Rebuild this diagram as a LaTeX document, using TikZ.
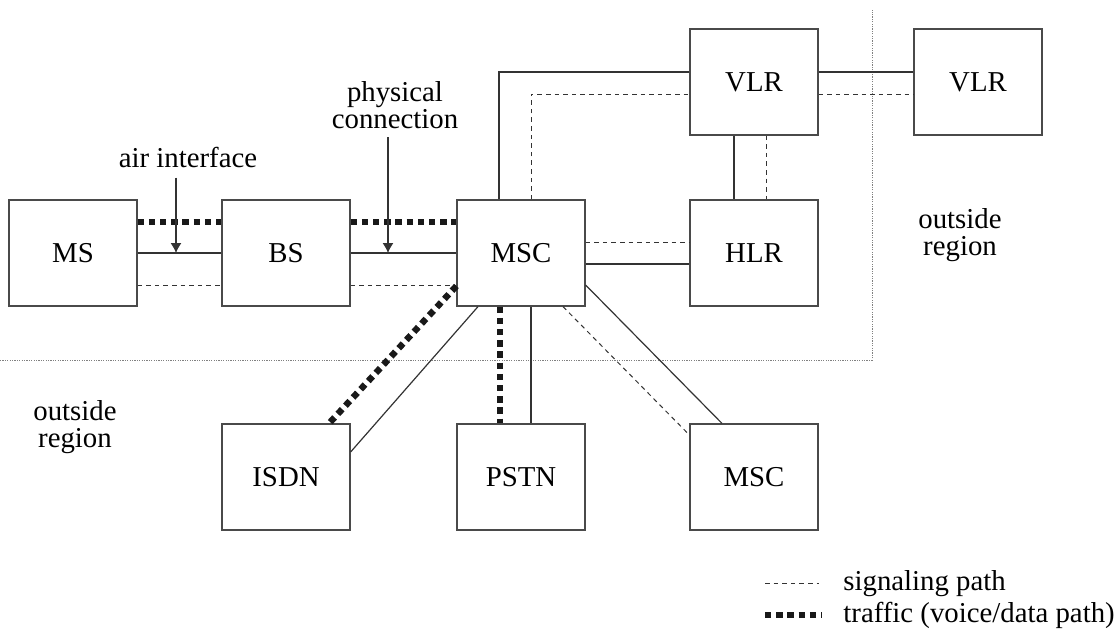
\documentclass[tikz,border=0pt]{standalone}
\usepackage{fontspec}
\setmainfont{Liberation Serif}
\usetikzlibrary{calc,arrows.meta}
\definecolor{boxgray}{HTML}{4A4A4A}
\definecolor{linegray}{HTML}{333333}
\definecolor{dotgray}{HTML}{808080}

\begin{document}
\begin{tikzpicture}[x=0.5pt,y=-0.5pt,
  unit/.style={draw=boxgray, line width=0.6pt, minimum width=64pt, minimum height=53pt, inner sep=0pt, font=\fontsize{14.4}{13.5}\selectfont},
  lbl/.style={align=center, inner sep=0pt, font=\fontsize{14.4}{13.5}\selectfont},
  link/.style={draw=linegray, line width=0.6pt},
  signal/.style={draw=linegray, line width=0.5pt, dash pattern=on 2.3pt off 2pt},
  traffic/.style={draw=black!90, line width=3.2pt, dash pattern=on 3.2pt off 2.4pt},
  region/.style={draw=dotgray, line width=0.4pt, dash pattern=on 0.6pt off 0.6pt},
  pointer/.style={draw=linegray, line width=0.6pt, -{Latex[length=5pt,width=5.5pt]}}]
\useasboundingbox (0,0) rectangle (1118,634);

\draw[region] (0,360) -- (872,360) -- (872,10);

\node[unit] (ms)   at (73,253)  {MS};
\node[unit] (bs)   at (286,253) {BS};
\node[unit] (msc)  at (521,253) {MSC};
\node[unit] (hlr)  at (754,253) {HLR};
\node[unit] (vlr)  at (754,82)  {VLR};
\node[unit] (vlrx) at (978,82)  {VLR};
\node[unit] (isdn) at (286,477) {ISDN};
\node[unit] (pstn) at (521,477) {PSTN};
\node[unit] (mscx) at (754,477) {MSC};

\node[lbl] (airlbl)  at (188,157) {air interface};
\node[lbl] (physlbl) at (395,105) {physical\\connection};
\node[lbl] (outa) at (960,235) {outside\\region};
\node[lbl] (outb) at (75,427)  {outside\\region};

% MS -- BS -- MSC
\draw[traffic] ($(ms.east)+(0,-31)$) -- ($(bs.west)+(0,-31)$);
\draw[link] (ms.east) -- (bs.west);
\draw[signal] ($(ms.east)+(0,32)$) -- ($(bs.west)+(0,32)$);
\draw[traffic] ($(bs.east)+(0,-31)$) -- ($(msc.west)+(0,-31)$);
\draw[link] (bs.east) -- (msc.west);
\draw[signal] ($(bs.east)+(0,32)$) -- ($(msc.west)+(0,32)$);

\coordinate (airtip) at (176,253);
\coordinate (phystip) at (388,253);
\draw[pointer] ($(airlbl.south -| airtip)+(0,10)$) -- (airtip);
\draw[pointer] ($(physlbl.south -| phystip)+(0,8)$) -- (phystip);

% MSC -- VLR -- HLR
\draw[link] ($(msc.north)+(-22,0)$) |- ($(vlr.west)+(0,-10)$);
\draw[signal] ($(msc.north)+(10,0)$) |- ($(vlr.west)+(0,12)$);
\draw[link] ($(vlr.east)+(0,-10)$) -- ($(vlrx.west)+(0,-10)$);
\draw[signal] ($(vlr.east)+(0,12)$) -- ($(vlrx.west)+(0,12)$);
\draw[link] ($(vlr.south)+(-20,0)$) -- ($(hlr.north)+(-20,0)$);
\draw[signal] ($(vlr.south)+(12,0)$) -- ($(hlr.north)+(12,0)$);
\draw[signal] ($(msc.east)+(0,-11)$) -- ($(hlr.west)+(0,-11)$);
\draw[link] ($(msc.east)+(0,11)$) -- ($(hlr.west)+(0,11)$);

% MSC -- outside
\draw[traffic] ($(msc.west)+(0,33)$) -- ($(isdn.north)+(43,0)$);
\draw[link] ($(msc.south)+(-43,0)$) -- ($(isdn.east)+(0,-25)$);
\draw[traffic] ($(msc.south)+(-21,0)$) -- ($(pstn.north)+(-21,0)$);
\draw[link] ($(msc.south)+(10,0)$) -- ($(pstn.north)+(10,0)$);
\draw[signal] ($(msc.south)+(42,0)$) -- ($(mscx.west)+(0,-42)$);
\draw[link] ($(msc.east)+(0,32)$) -- ($(mscx.north)+(-32,0)$);

% legend
\node[lbl, anchor=base west] (sigtxt) at (843,590) {signaling path};
\node[lbl, anchor=base west] (traftxt) at (843,622) {traffic (voice/data path)};
\draw[signal] ($(sigtxt.west)+(-78,0)$) -- ($(sigtxt.west)+(-24,0)$);
\draw[traffic] ($(traftxt.west)+(-78,0)$) -- ($(traftxt.west)+(-21,0)$);
\end{tikzpicture}
\end{document}
